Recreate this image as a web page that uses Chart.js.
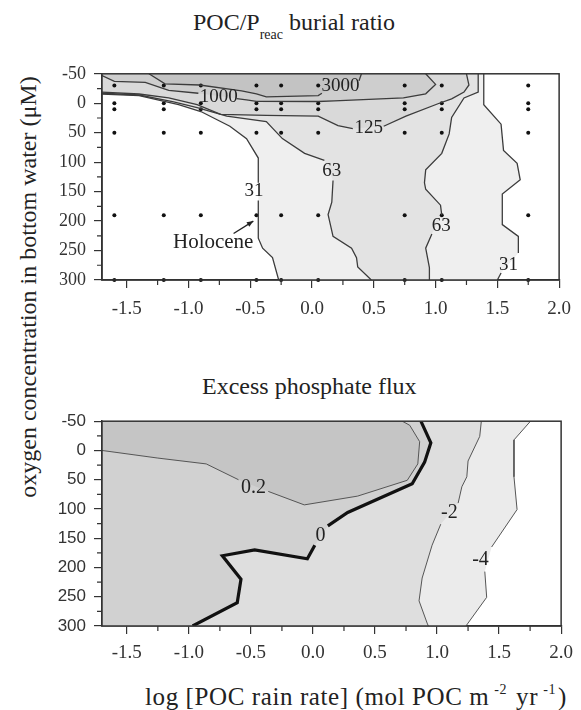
<!DOCTYPE html>
<html>
<head>
<meta charset="utf-8">
<script src="https://cdn.jsdelivr.net/npm/chart.js@4"></script>
<style>
  body { margin:0; background:#fff; width:581px; height:710px; position:relative; overflow:hidden;
         font-family:'Liberation Serif','Times New Roman',serif; color:#222; }
  canvas { position:absolute; left:40px; }
  .ttl { position:absolute; font-size:24px; white-space:nowrap; line-height:1; }
  sub { font-size:14px; vertical-align:-9px; }
  sup { font-size:14px; vertical-align:11px; margin:0 2px 0 5px; }
  #ytitle { left:28px; top:287px; transform:translate(-50%,-50%) rotate(-90deg); }
  #xtitle { left:145px; top:683px; font-size:25px; letter-spacing:0.6px; }
</style>
</head>
<body>
<div class="ttl" style="left:193px;top:10px">POC/P<sub>reac</sub> burial ratio</div>
<div class="ttl" style="left:202px;top:374px">Excess phosphate flux</div>
<div class="ttl" id="ytitle">oxygen concentration in bottom water (μM)</div>
<div class="ttl" id="xtitle">log [POC rain rate] (mol POC m<sup>-2</sup> yr<sup>-1</sup>)</div>
<canvas id="c1" width="541" height="270" style="top:55px"></canvas>
<canvas id="c2" width="541" height="268" style="top:403px"></canvas>
<script>
// axes
const xRange = [-1.7, 2.0];
const yRange = [-50, 300];
const xTickVals = [-1.5, -1.0, -0.5, 0.0, 0.5, 1.0, 1.5, 2.0];
const xMinorVals = [-1.25, -0.75, -0.25, 0.25, 0.75, 1.25, 1.75];
const yTickVals = [-50, 0, 50, 100, 150, 200, 250, 300];
const yMinorVals = [-25, 25, 75, 125, 175, 225, 275];

// model runs (dots in the upper panel)
const runLogRain = [-1.6, -1.2, -0.9, -0.45, -0.25, 0.05, 0.75, 1.05, 1.75];
const runO2 = [-30, 0, 10, 50, 190, 300];

// upper panel contours [log rain, O2], null = gap for the label
const c3000 = [[-1.32,-50],[-1.19,-33],[-0.91,-31],[-0.57,-21],[-0.45,-16],[-0.37,-11],[0.05,-13],[0.08,-17],null,[0.38,-38],[0.40,-50]];
const c1000 = [[-1.7,-47],[-1.60,-37],[-1.35,-35.5],[-1.16,-22],[-0.92,-17],null,[-0.61,-8],[-0.53,-5.8],[-0.45,-3.3],[0.05,-3],[0.18,-4],[0.74,-9],[0.92,-16],[1.0,-32],[0.92,-50]];
const c125 = [[-1.7,-19],[-1.40,-15.7],[-1.16,-9],[-0.93,2.5],[-0.74,19],[-0.37,20.7],[0.05,21.8],[0.21,38],[0.33,43],null,[0.58,39],[0.76,22],[1.03,0],[1.13,-7.4],[1.23,-19],[1.27,-31],[1.25,-50]];
const c63a = [[-1.7,-17],[-1.40,-14],[-1.12,-2.5],[-0.93,7.4],[-0.69,22],[-0.37,31],[-0.24,60],[-0.06,85],[0.10,97],null,[0.17,131],[0.16,168],[0.13,189],[0.17,226],[0.32,246],[0.36,262],[0.37,278],[0.48,300]];
const c63b = [[1.345,-50],[1.345,-19],[1.23,-9],[1.13,24],[1.11,52],[1.05,85],[0.92,113],[0.91,135],[0.92,146],[1.04,173],[1.05,190],null,[0.97,222],[0.92,246],[0.95,279],[0.95,300]];
const c31a = [[-1.7,-15.5],[-1.40,-13],[-1.08,2.5],[-0.90,14],[-0.665,39],[-0.53,60],[-0.435,93],[-0.435,135],null,[-0.435,165],[-0.435,229],[-0.40,246],[-0.32,262],[-0.27,300]];
const c31b = [[1.39,-50],[1.39,2.5],[1.53,35.5],[1.55,80],[1.66,102],[1.685,130],[1.54,154],[1.54,206],[1.67,226],[1.67,254],null,[1.53,288],[1.50,300]];

// lower panel contours
const p02 = [[-1.7,0],[-1.25,13],[-0.86,23],[-0.60,50],null,[-0.36,70],[-0.07,93],[0.36,78],[0.76,51],[0.845,23],[0.86,-15],[0.78,-43],[0.72,-50]];
const p0 = [[0.87,-50],[0.95,-13],[0.90,20],[0.80,57],[0.28,106],[0.12,129],null,[0.015,162],[-0.045,185],[-0.47,170],[-0.73,180],[-0.58,220],[-0.61,260],[-0.97,300]];
const pm2 = [[1.357,-50],[1.344,-24],[1.25,18],[1.24,45],[1.20,62],[1.17,90],null,[1.03,126],[0.96,162],[0.88,218],[0.855,257],[0.92,295],[0.93,300]];
const pm4 = [[1.753,-50],[1.62,-18],[1.62,45],[1.645,101],[1.44,165],null,[1.385,207],[1.40,251],[1.25,295],[1.233,300]];

const topLabels = [['3000',0.23,-29],['1000',-0.755,-11],['125',0.46,42],['63',0.16,115],['63',1.045,208],['31',-0.47,149],['31',1.59,274]];
const botLabels = [['0.2',-0.48,63],['0',0.06,145],['-2',1.10,107],['-4',1.35,187]];

const serif = "'Liberation Serif','Times New Roman',serif";
const sans = "'Liberation Sans',Arial,sans-serif";
const [X0, X1] = xRange, [Y0, Y1] = yRange;

function segs(pts) {
  const out = [[]];
  pts.forEach(p => p ? out[out.length - 1].push(p) : out.push([]));
  return out;
}
const solid = pts => pts.filter(p => p);
const rev = pts => solid(pts).slice().reverse();

function lineSets(curves, color, width) {
  const sets = [];
  curves.forEach(c => segs(c).forEach(s => sets.push({
    data: s.map(p => ({x: p[0], y: p[1]})),
    showLine: true, pointRadius: 0, borderColor: color, borderWidth: width, fill: false, tension: 0
  })));
  return sets;
}

function bandPlugin(bands) {
  return {
    id: 'bands',
    beforeDatasetsDraw(chart) {
      const {ctx, chartArea: a, scales: {x, y}} = chart;
      ctx.save();
      ctx.beginPath();
      ctx.rect(a.left, a.top, a.width, a.height);
      ctx.clip();
      bands.forEach(b => {
        ctx.beginPath();
        b.pts.forEach((p, i) => {
          const px = x.getPixelForValue(p[0]), py = y.getPixelForValue(p[1]);
          i ? ctx.lineTo(px, py) : ctx.moveTo(px, py);
        });
        ctx.closePath();
        ctx.fillStyle = b.color;
        ctx.fill();
      });
      ctx.restore();
    }
  };
}

function labelPlugin(labels, font, extra) {
  return {
    id: 'clabels',
    afterDatasetsDraw(chart) {
      const {ctx, scales: {x, y}} = chart;
      ctx.save();
      ctx.font = font;
      ctx.fillStyle = '#222';
      ctx.textAlign = 'center';
      ctx.textBaseline = 'middle';
      labels.forEach(l => ctx.fillText(l[0], x.getPixelForValue(l[1]), y.getPixelForValue(l[2])));
      if (extra) extra(chart);
      ctx.restore();
    }
  };
}

const frame = {
  id: 'frame',
  afterDraw(chart) {
    const {ctx, chartArea: a, scales: {x, y}} = chart;
    ctx.save();
    ctx.strokeStyle = '#333';
    ctx.lineWidth = 1.5;
    ctx.strokeRect(a.left, a.top, a.width, a.height);
    ctx.lineWidth = 1.2;
    ctx.beginPath();
    xMinorVals.forEach(v => { const px = x.getPixelForValue(v); ctx.moveTo(px, a.bottom); ctx.lineTo(px, a.bottom + 5); });
    yMinorVals.forEach(v => { const py = y.getPixelForValue(v); ctx.moveTo(a.left, py); ctx.lineTo(a.left - 5, py); });
    ctx.stroke();
    ctx.restore();
  }
};

function scaleOpts(yFont, xPad) {
  return {
    x: {
      type: 'linear', min: X0, max: X1,
      afterBuildTicks: s => { s.ticks = xTickVals.map(v => ({value: v})); },
      afterFit: s => { s.height = 45; },
      grid: {drawOnChartArea: false, tickLength: 8, color: '#333', lineWidth: 1.2},
      border: {color: '#333', width: 1.5},
      ticks: {font: {family: serif, size: 19}, color: '#333', padding: xPad, maxRotation: 0, autoSkip: false,
              callback: v => v.toFixed(1)}
    },
    y: {
      type: 'linear', min: Y0, max: Y1, reverse: true,
      afterBuildTicks: s => { s.ticks = yTickVals.map(v => ({value: v})); },
      afterFit: s => { s.width = 62; },
      grid: {drawOnChartArea: false, tickLength: 8, color: '#333', lineWidth: 1.2},
      border: {color: '#333', width: 1.5},
      ticks: {font: yFont, color: '#333', padding: 8, autoSkip: false}
    }
  };
}

const baseOpts = {
  responsive: false,
  animation: false,
  plugins: {legend: {display: false}, tooltip: {enabled: false}}
};

// upper panel
const topBands = [
  {color: '#efefef', pts: [[X0, Y0], ...solid(c31a), ...rev(c31b)]},
  {color: '#e3e3e3', pts: [[X0, Y0], ...solid(c63a), ...rev(c63b)]},
  {color: '#d9d9d9', pts: [[X0, Y0], ...solid(c125)]},
  {color: '#cecece', pts: [[X0, Y0], ...solid(c1000)]},
  {color: '#c3c3c3', pts: solid(c3000)}
];

function holocene(chart) {
  const {ctx, scales: {x, y}} = chart;
  ctx.font = '21px ' + serif;
  ctx.fillText('Holocene', x.getPixelForValue(-0.80), y.getPixelForValue(237));
  const x1 = x.getPixelForValue(-0.635), y1 = y.getPixelForValue(221);
  const x2 = x.getPixelForValue(-0.475), y2 = y.getPixelForValue(200);
  const ang = Math.atan2(y2 - y1, x2 - x1);
  ctx.strokeStyle = '#222';
  ctx.lineWidth = 1.3;
  ctx.beginPath(); ctx.moveTo(x1, y1); ctx.lineTo(x2, y2); ctx.stroke();
  ctx.beginPath();
  ctx.moveTo(x2, y2);
  ctx.lineTo(x2 - 7 * Math.cos(ang - 0.4), y2 - 7 * Math.sin(ang - 0.4));
  ctx.lineTo(x2 - 7 * Math.cos(ang + 0.4), y2 - 7 * Math.sin(ang + 0.4));
  ctx.closePath();
  ctx.fillStyle = '#222';
  ctx.fill();
}

new Chart(document.getElementById('c1'), {
  type: 'scatter',
  data: {
    datasets: [
      ...lineSets([c3000, c1000, c125, c63a, c63b, c31a, c31b], '#3c3c3c', 1.3),
      {data: runLogRain.flatMap(x => runO2.map(y => ({x, y}))), pointRadius: 2, pointBackgroundColor: '#111',
       pointBorderWidth: 0, showLine: false, clip: false}
    ]
  },
  options: {...baseOpts, layout: {padding: {top: 13, right: 12}}, scales: scaleOpts({family: serif, size: 18}, 10)},
  plugins: [bandPlugin(topBands), labelPlugin(topLabels, '19px ' + serif, holocene), frame]
});

// lower panel
const botBands = [
  {color: '#ebebeb', pts: [[X0, Y0], ...solid(pm4), [X0, Y1]]},
  {color: '#dedede', pts: [[X0, Y0], ...solid(pm2), [X0, Y1]]},
  {color: '#d1d1d1', pts: [[X0, Y0], ...solid(p0), [X0, Y1]]},
  {color: '#c5c5c5', pts: [...solid(p02), [X0, Y0]]}
];

new Chart(document.getElementById('c2'), {
  type: 'scatter',
  data: {
    datasets: [
      ...lineSets([p02, pm2, pm4], '#555', 1),
      ...lineSets([p0], '#111', 3.2)
    ]
  },
  options: {...baseOpts, layout: {padding: {top: 13, right: 13}}, scales: scaleOpts({family: sans, size: 17}, 8)},
  plugins: [bandPlugin(botBands), labelPlugin(botLabels, '20px ' + serif), frame]
});
</script>
</body>
</html>
